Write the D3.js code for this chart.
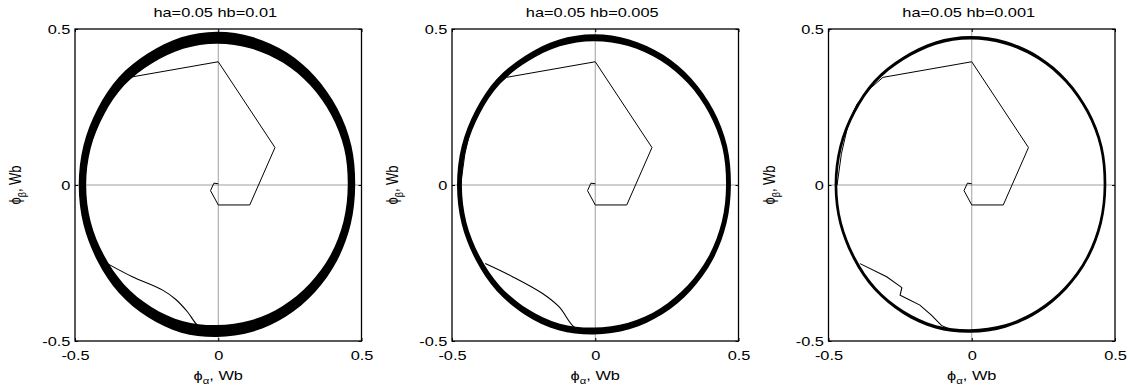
<!DOCTYPE html>
<html lang="en">
<head>
  <meta charset="utf-8">
  <title>Flux locus, ha / hb</title>
  <style>
    body { margin: 0; background: #fff; }
    svg text { font-family: "Liberation Sans", Arial, sans-serif; fill: #000; }
  </style>
</head>
<body>
  <svg id="chart" width="1131" height="392"></svg>

  <script src="https://d3js.org/d3.v7.min.js"></script>
  <script>
    // ---- data ----
    const titles = ["ha=0.05 hb=0.01", "ha=0.05 hb=0.005", "ha=0.05 hb=0.001"];
    const ticks = [-0.5, 0, 0.5];

    // steady-state flux locus (centre of the band), Wb
    const locusAlpha = [0.465, 0.452, 0.405, 0.33, 0.233, 0.117, -0.005, -0.126, -0.24, -0.338, -0.41, -0.458,
                        -0.474, -0.458, -0.41, -0.338, -0.24, -0.126, -0.005, 0.117, 0.23, 0.328, 0.403, 0.45];
    const locusBeta  = [0, 0.122, 0.235, 0.333, 0.408, 0.456, 0.472, 0.455, 0.405, 0.332, 0.235, 0.122,
                        0, -0.122, -0.235, -0.332, -0.407, -0.455, -0.468, -0.452, -0.405, -0.33, -0.234, -0.12];

    // half width of the ripple band per panel, Wb
    const rippleAlpha = [0.013, 0.0085, 0.0047];
    const rippleBeta  = [0.019, 0.011, 0.0055];

    // start-up transient (same in all three)
    const startAlpha = [0, -0.015, -0.027, 0, 0.11, 0.198, 0, -0.31, -0.35, -0.40, -0.43, -0.455, -0.47];
    const startBeta  = [0.004, 0.006, -0.018, -0.064, -0.064, 0.12, 0.395, 0.345, 0.313, 0.26, 0.2, 0.1, 0.0];

    // chord across the lower left
    const chordAlpha = [
      [-0.387, -0.3, -0.194, -0.148, -0.107, -0.072, -0.04],
      [-0.384, -0.289, -0.184, -0.126, -0.074, -0.04],
      [-0.39, -0.297, -0.256, -0.244, -0.25, -0.227, -0.181, -0.14, -0.106, -0.07]
    ];
    const chordBeta = [
      [-0.252, -0.294, -0.337, -0.367, -0.407, -0.45, -0.465],
      [-0.252, -0.294, -0.348, -0.391, -0.455, -0.466],
      [-0.252, -0.294, -0.321, -0.329, -0.353, -0.364, -0.385, -0.418, -0.45, -0.465]
    ];

    // ---- layout ----
    const panelLeft = [75, 452, 828.5];
    const panelTop = 29, pw = 286.5, ph = 312;
    const sx = 1.26;   // the picture's text is stretched sideways

    const svg = d3.select("#chart");
    svg.append("rect").attr("width", 1131).attr("height", 392).attr("fill", "#fff");

    titles.forEach((title, i) => {
      const x = d3.scaleLinear().domain([-0.5, 0.5]).range([0, pw]);
      const y = d3.scaleLinear().domain([-0.5, 0.5]).range([ph, 0]);
      const g = svg.append("g").attr("transform", `translate(${panelLeft[i]},${panelTop})`);

      // zero lines
      g.append("line").attr("x1", x(0)).attr("x2", x(0)).attr("y1", 0).attr("y2", ph)
        .attr("stroke", "#777").attr("stroke-width", 0.7);
      g.append("line").attr("x1", 0).attr("x2", pw).attr("y1", y(0)).attr("y2", y(0))
        .attr("stroke", "#777").attr("stroke-width", 0.7);

      // ripple band as a ring
      const ring = (sign) => locusAlpha.map((a, k) => {
        const b = locusBeta[k];
        const th = Math.atan2(b, a);
        return [x(a + sign * rippleAlpha[i] * Math.cos(th)), y(b + sign * rippleBeta[i] * Math.sin(th))];
      });
      const closed = d3.line().curve(d3.curveCardinalClosed);
      g.append("path")
        .attr("d", closed(ring(1)) + closed(ring(-1)))
        .attr("fill", "#000")
        .attr("fill-rule", "evenodd");

      // transients
      const line = d3.line().x(d => x(d[0])).y(d => y(d[1]));
      g.append("path")
        .attr("d", line(startAlpha.map((a, k) => [a, startBeta[k]])))
        .attr("fill", "none").attr("stroke", "#000").attr("stroke-width", 1);
      const smooth = d3.line().x(d => x(d[0])).y(d => y(d[1]))
        .curve(i === 2 ? d3.curveLinear : d3.curveCatmullRom);
      g.append("path")
        .attr("d", smooth(chordAlpha[i].map((a, k) => [a, chordBeta[i][k]])))
        .attr("fill", "none").attr("stroke", "#000").attr("stroke-width", 1.1);

      // axes, ticks inside on all sides
      const fmt = d => String(d);
      const bottomAx = g.append("g").attr("transform", `translate(0,${ph})`)
        .call(d3.axisBottom(x).tickValues(ticks).tickSize(-3).tickPadding(9.5).tickFormat(fmt));
      const leftAx = g.append("g")
        .call(d3.axisLeft(y).tickValues(ticks).tickSize(-3).tickPadding(4).tickFormat(fmt));
      g.append("g").call(d3.axisTop(x).tickValues(ticks).tickSize(-3).tickFormat(""));
      g.append("g").attr("transform", `translate(${pw},0)`)
        .call(d3.axisRight(y).tickValues(ticks).tickSize(-3).tickFormat(""));

      g.selectAll(".domain").remove();
      g.selectAll(".tick line").attr("stroke", "#000");
      g.selectAll(".tick text").attr("font-size", 13).attr("font-family", null);
      bottomAx.selectAll(".tick text").attr("transform", `scale(${sx},1)`);
      leftAx.selectAll(".tick text")
        .attr("x", -4 / sx - 0.5)
        .attr("transform", `scale(${sx},1)`);

      // box
      g.append("rect").attr("width", pw).attr("height", ph)
        .attr("fill", "none").attr("stroke", "#000").attr("stroke-width", 1.3);

      // title
      g.append("text")
        .attr("transform", `translate(${pw / 2 - 3},-12) scale(${sx},1)`)
        .attr("text-anchor", "middle").attr("font-size", 13)
        .text(title);

      // x label: phi_alpha, Wb
      const xl = g.append("text")
        .attr("transform", `translate(${pw / 2},${ph + 39}) scale(${sx},1)`)
        .attr("text-anchor", "middle").attr("font-size", 13);
      xl.append("tspan").text("\u03d5");
      xl.append("tspan").attr("font-size", 9).attr("dy", 4).text("\u03b1");
      xl.append("tspan").attr("dy", -4).text(", Wb");

      // y label: phi_beta, Wb
      const yl = g.append("text")
        .attr("transform", `translate(-54,${ph / 2}) scale(${sx},1) rotate(-90)`)
        .attr("text-anchor", "middle").attr("font-size", 13);
      yl.append("tspan").text("\u03d5");
      yl.append("tspan").attr("font-size", 9).attr("dy", 4).text("\u03b2");
      yl.append("tspan").attr("dy", -4).text(", Wb");
    });
  </script>
</body>
</html>
